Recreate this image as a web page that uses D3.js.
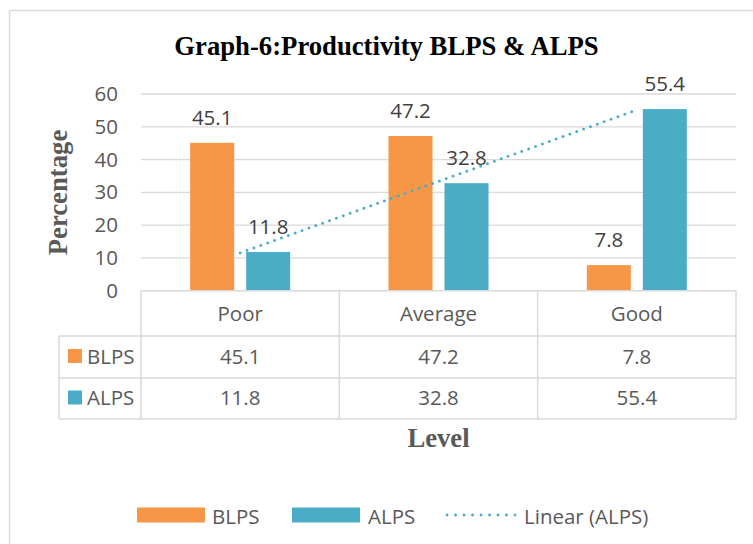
<!DOCTYPE html>
<html>
<head>
<meta charset="utf-8">
<script src="https://cdn.jsdelivr.net/npm/d3@7"></script>
<style>
  body { margin: 0; background: #fff; }
  text { font-family: "Open Sans", sans-serif; }
</style>
</head>
<body>
<script>
/* Productivity levels, percentage (row: series, column: level) */
var categories = ["Poor", "Average", "Good"];
var seriesNames = ["BLPS", "ALPS"];
var blps = [45.1, 47.2, 7.8];
var alps = [11.8, 32.8, 55.4];
var yTicks = [0, 10, 20, 30, 40, 50, 60];

var colors = { BLPS: "#f79646", ALPS: "#4bacc6" };

/* Layout constants */
var width = 753,
    height = 544;
var plotLeft = 141,
    plotRight = 736,
    plotTop = 94,
    plotBottom = 290.7;
var tableLeft = 59;
var rowLines = [290.7, 336, 378, 419];   // table horizontal rules

var svg = d3.select("body").append("svg")
    .attr("width", width)
    .attr("height", height);

// chart area border (runs off the bottom / right of the picture)
svg.append("rect")
    .attr("x", 9.5).attr("y", 10.5)
    .attr("width", 760).attr("height", 560)
    .attr("fill", "none")
    .attr("stroke", "#d9d9d9")
    .attr("stroke-width", 1.5);

var x0 = d3.scaleBand()
    .domain(categories)
    .range([plotLeft, plotRight])
    .padding(0);

var x1 = d3.scaleBand()
    .domain(seriesNames)
    .range([0, x0.bandwidth()])
    .paddingInner(0.214)
    .paddingOuter(0.878);

var y = d3.scaleLinear()
    .domain([0, 60])
    .range([plotBottom, plotTop]);

// gridlines
svg.append("g")
    .selectAll("line")
    .data(yTicks.filter(function(d) { return d > 0; }))
    .enter()
    .append("line")
    .attr("x1", plotLeft).attr("x2", plotRight)
    .attr("y1", function(d) { return y(d); })
    .attr("y2", function(d) { return y(d); })
    .attr("stroke", "#d9d9d9")
    .attr("stroke-width", 1.3);

// y tick labels
var yAxis = d3.axisLeft(y).tickValues(yTicks).tickSize(0).tickPadding(0);
var yg = svg.append("g")
    .attr("transform", "translate(118,0)")
    .call(yAxis);
yg.select(".domain").remove();
yg.selectAll("text")
    .attr("font-family", "Open Sans")
    .attr("font-size", "20.5px")
    .attr("fill", "#595959");

// bars
var rows = categories.map(function(c, i) {
    return { cat: c, values: [ { key: "BLPS", v: blps[i] }, { key: "ALPS", v: alps[i] } ] };
});

var groups = svg.selectAll("g.cat")
    .data(rows)
    .enter()
    .append("g")
    .attr("class", "cat")
    .attr("transform", function(d) { return "translate(" + x0(d.cat) + ",0)"; });

groups.selectAll("rect")
    .data(function(d) { return d.values; })
    .enter()
    .append("rect")
    .attr("x", function(d) { return x1(d.key); })
    .attr("y", function(d) { return y(d.v); })
    .attr("width", x1.bandwidth())
    .attr("height", function(d) { return y(0) - y(d.v); })
    .attr("fill", function(d) { return colors[d.key]; });

// linear trend of ALPS (least squares over category index)
var n = alps.length;
var mx = d3.mean(alps, function(d, i) { return i + 1; });
var my = d3.mean(alps);
var sxy = d3.sum(alps, function(d, i) { return (i + 1 - mx) * (d - my); });
var sxx = d3.sum(alps, function(d, i) { return (i + 1 - mx) * (i + 1 - mx); });
var slope = sxy / sxx;
var intercept = my - slope * mx;
var trend = categories.map(function(c, i) { return { cat: c, v: intercept + slope * (i + 1) }; });

svg.append("path")
    .datum([trend[0], trend[n - 1]])
    .attr("d", d3.line()
        .x(function(d) { return x0(d.cat) + x0.bandwidth() / 2; })
        .y(function(d) { return y(d.v); }))
    .attr("fill", "none")
    .attr("stroke", colors.ALPS)
    .attr("stroke-width", 2.8)
    .attr("stroke-linecap", "round")
    .attr("stroke-dasharray", "0.1 7.2");

// data labels
groups.selectAll("text.lbl")
    .data(function(d) { return d.values; })
    .enter()
    .append("text")
    .attr("class", "lbl")
    .attr("x", function(d) { return x1(d.key) + x1.bandwidth() / 2; })
    .attr("y", function(d) { return y(d.v) - 18; })
    .attr("text-anchor", "middle")
    .attr("font-size", "20.5px")
    .attr("fill", "#404040")
    .text(function(d) { return d.v; });

// data table
var tbl = svg.append("g").attr("stroke", "#d9d9d9").attr("stroke-width", 1.5);
tbl.append("line")
    .attr("x1", plotLeft).attr("x2", plotRight)
    .attr("y1", rowLines[0]).attr("y2", rowLines[0]);
rowLines.slice(1).forEach(function(yy) {
    tbl.append("line")
        .attr("x1", tableLeft).attr("x2", plotRight)
        .attr("y1", yy).attr("y2", yy);
});
tbl.append("line")
    .attr("x1", tableLeft).attr("x2", tableLeft)
    .attr("y1", rowLines[1]).attr("y2", rowLines[3]);
x0.domain().forEach(function(c) {
    tbl.append("line")
        .attr("x1", x0(c) + x0.bandwidth()).attr("x2", x0(c) + x0.bandwidth())
        .attr("y1", rowLines[0]).attr("y2", rowLines[3]);
});
tbl.append("line")
    .attr("x1", plotLeft).attr("x2", plotLeft)
    .attr("y1", rowLines[0]).attr("y2", rowLines[3]);

// header row
svg.selectAll("text.head")
    .data(categories)
    .enter()
    .append("text")
    .attr("class", "head")
    .attr("x", function(d) { return x0(d) + x0.bandwidth() / 2; })
    .attr("y", (rowLines[0] + rowLines[1]) / 2 + 7.5)
    .attr("text-anchor", "middle")
    .attr("font-size", "20.5px")
    .attr("fill", "#595959")
    .text(function(d) { return d; });

// series rows
var seriesRows = [ { key: "BLPS", vals: blps }, { key: "ALPS", vals: alps } ];
seriesRows.forEach(function(s, r) {
    var mid = (rowLines[r + 1] + rowLines[r + 2]) / 2;
    svg.append("rect")
        .attr("x", 68).attr("y", mid - 8)
        .attr("width", 14).attr("height", 14)
        .attr("fill", colors[s.key]);
    svg.append("text")
        .attr("x", 87).attr("y", mid + 6.5)
        .attr("font-size", "20.5px")
        .attr("fill", "#595959")
        .text(s.key);
    svg.selectAll(null)
        .data(s.vals)
        .enter()
        .append("text")
        .attr("x", function(d, i) { return x0(categories[i]) + x0.bandwidth() / 2; })
        .attr("y", mid + 6.5)
        .attr("text-anchor", "middle")
        .attr("font-size", "20.5px")
        .attr("fill", "#595959")
        .text(function(d) { return d; });
});

// titles
svg.append("text")
    .attr("x", 386.5).attr("y", 55)
    .attr("text-anchor", "middle")
    .style("font-family", "'Liberation Serif', 'Times New Roman', serif")
    .attr("font-weight", "bold")
    .attr("font-size", "26.7px")
    .attr("fill", "#000")
    .text("Graph-6:Productivity BLPS & ALPS");

svg.append("text")
    .attr("transform", "translate(67,192.5) rotate(-90)")
    .attr("text-anchor", "middle")
    .style("font-family", "'Liberation Serif', 'Times New Roman', serif")
    .attr("font-weight", "bold")
    .attr("font-size", "26.7px")
    .attr("fill", "#595959")
    .text("Percentage");

svg.append("text")
    .attr("x", (plotLeft + plotRight) / 2).attr("y", 446.7)
    .attr("text-anchor", "middle")
    .style("font-family", "'Liberation Serif', 'Times New Roman', serif")
    .attr("font-weight", "bold")
    .attr("font-size", "26.7px")
    .attr("fill", "#595959")
    .text("Level");

// legend
var legend = svg.append("g").attr("transform", "translate(0,515)");
var legendItems = [
    { label: "BLPS", type: "rect", color: colors.BLPS, x: 137, tx: 212 },
    { label: "ALPS", type: "rect", color: colors.ALPS, x: 292, tx: 368 },
    { label: "Linear (ALPS)", type: "dots", color: colors.ALPS, x: 447, tx: 524 }
];
legendItems.forEach(function(it) {
    if (it.type === "rect") {
        legend.append("rect")
            .attr("x", it.x).attr("y", -7.5)
            .attr("width", 68).attr("height", 15)
            .attr("fill", it.color);
    } else {
        legend.append("line")
            .attr("x1", it.x).attr("x2", it.x + 68)
            .attr("y1", 0).attr("y2", 0)
            .attr("stroke", it.color)
            .attr("stroke-width", 2.8)
            .attr("stroke-linecap", "round")
            .attr("stroke-dasharray", "0.1 8.4");
    }
    legend.append("text")
        .attr("x", it.tx).attr("y", 8.5)
        .attr("font-size", "20.5px")
        .attr("fill", "#595959")
        .text(it.label);
});
</script>
</body>
</html>
